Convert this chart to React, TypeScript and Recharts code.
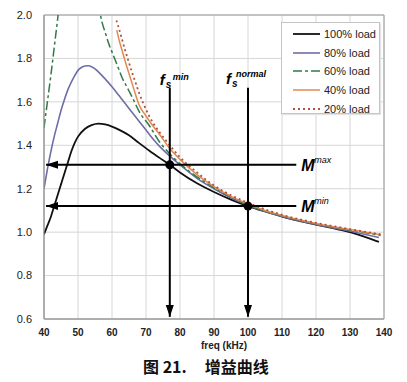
import React from 'react';
import {
  ComposedChart, Line, Scatter, XAxis, YAxis, CartesianGrid, ReferenceLine, ReferenceArea,
} from 'recharts';

// ---- data ----
const xTicks = [40, 50, 60, 70, 80, 90, 100, 110, 120, 130, 140];
const yTicks = [0.6, 0.8, 1.0, 1.2, 1.4, 1.6, 1.8, 2.0];

const freq100 = [40, 41, 42, 43, 44, 45, 46, 47, 48, 49, 50, 52, 54, 56, 58, 60, 62, 65, 68, 71, 74, 77, 80, 85, 90, 95, 100, 105, 110, 115, 120, 125, 130, 135, 138.5];
const gain100 = [0.99, 1.03, 1.07, 1.12, 1.17, 1.22, 1.27, 1.32, 1.37, 1.41, 1.44, 1.475, 1.493, 1.5, 1.496, 1.486, 1.472, 1.446, 1.41, 1.375, 1.342, 1.31, 1.275, 1.225, 1.185, 1.15, 1.12, 1.095, 1.072, 1.052, 1.035, 1.018, 1.0, 0.975, 0.955];

const freq80 = [40, 41, 42, 43, 44, 45, 46, 47, 48, 49, 50, 51, 52, 53, 54, 55, 56, 58, 60, 62, 64, 66, 68, 70, 72, 74, 77, 80, 85, 90, 95, 100, 105, 110, 120, 130, 138.5];
const gain80 = [1.2, 1.29, 1.37, 1.44, 1.5, 1.56, 1.61, 1.655, 1.69, 1.72, 1.745, 1.758, 1.765, 1.766, 1.762, 1.752, 1.738, 1.705, 1.67, 1.63, 1.59, 1.55, 1.51, 1.47, 1.43, 1.395, 1.35, 1.31, 1.248, 1.2, 1.158, 1.124, 1.095, 1.072, 1.035, 1.005, 0.975];

const freq60 = [40, 41, 42, 43, 44, 45, 56, 57, 58, 59, 60, 61, 62, 63, 64, 65, 66, 68, 71, 74, 77, 80, 85, 90, 95, 100, 105, 110, 120, 130, 139];
const gain60 = [1.48, 1.6, 1.72, 1.85, 1.98, 2.12, 2.04, 1.97, 1.92, 1.87, 1.83, 1.79, 1.75, 1.71, 1.68, 1.65, 1.62, 1.555, 1.49, 1.415, 1.36, 1.315, 1.255, 1.205, 1.16, 1.125, 1.097, 1.074, 1.038, 1.01, 0.985];

const freq40 = [61.4, 62, 63, 64, 65, 66, 67, 68, 70, 72, 74, 77, 80, 85, 90, 95, 100, 105, 110, 120, 130, 139];
const gain40 = [1.93, 1.89, 1.835, 1.78, 1.73, 1.68, 1.63, 1.585, 1.535, 1.49, 1.45, 1.385, 1.335, 1.265, 1.21, 1.165, 1.13, 1.1, 1.077, 1.04, 1.012, 0.988];

const freq20 = [61.3, 62, 63, 64, 65, 66, 67, 68, 70, 72, 74, 77, 80, 85, 90, 95, 100, 105, 110, 120, 130, 139];
const gain20 = [1.975, 1.94, 1.885, 1.83, 1.78, 1.73, 1.685, 1.64, 1.565, 1.505, 1.46, 1.4, 1.345, 1.275, 1.215, 1.17, 1.135, 1.105, 1.08, 1.043, 1.014, 0.99];

const loadLabels = ['100% load', '80% load', '60% load', '40% load', '20% load'];

// annotation values
const fsMin = 77;
const fsNormal = 100;
const mMax = 1.31;
const mMin = 1.12;
const arrowTop = 1.665;
const mLineEnd = 114.2;
const yMin = 0.6;
const xMin = 40;

const zip = (xs: number[], ys: number[]) => xs.map((x, i) => ({ x, y: ys[i] }));

const seriesStyles = [
  { stroke: '#111111', strokeWidth: 1.8, dash: undefined as string | undefined },
  { stroke: '#6e6ea6', strokeWidth: 1.6, dash: undefined },
  { stroke: '#2f7a4a', strokeWidth: 1.5, dash: '9 3 3 3' },
  { stroke: '#e08a50', strokeWidth: 1.5, dash: undefined },
  { stroke: '#b4503c', strokeWidth: 1.8, dash: '2 3' },
];
const seriesData = [
  zip(freq100, gain100),
  zip(freq80, gain80),
  zip(freq60, gain60),
  zip(freq40, gain40),
  zip(freq20, gain20),
];

const FONT = '"Liberation Sans", Arial, sans-serif';

const DownArrow = (p: any) => (
  <path d={`M${p.cx},${p.cy - 2} L${p.cx - 4},${p.cy - 14} L${p.cx + 4},${p.cy - 14} Z`} fill="#000" />
);
const LeftArrow = (p: any) => (
  <path d={`M${p.cx + 2},${p.cy} L${p.cx + 14},${p.cy - 4} L${p.cx + 14},${p.cy + 4} Z`} fill="#000" />
);
const Dot = (p: any) => <circle cx={p.cx} cy={p.cy} r={4.5} fill="#000" />;

const txt = { fontFamily: FONT, fontWeight: 700, fontStyle: 'italic' as const, fill: '#000' };

const FsMinLabel = (p: any) => (
  <g>
    <text x={p.cx - 10} y={p.cy - 3} fontSize={15} {...txt}>f</text>
    <text x={p.cx - 4} y={p.cy} fontSize={10} {...txt}>s</text>
    <text x={p.cx + 3} y={p.cy - 8} fontSize={9} {...txt}>min</text>
  </g>
);
const FsNormalLabel = (p: any) => (
  <g>
    <text x={p.cx - 22} y={p.cy - 4} fontSize={15} {...txt}>f</text>
    <text x={p.cx - 16} y={p.cy - 1} fontSize={10} {...txt}>s</text>
    <text x={p.cx - 12} y={p.cy - 11} fontSize={9} {...txt}>normal</text>
  </g>
);
const MLabel = (sup: string) => (p: any) => (
  <g>
    <text x={p.cx + 5} y={p.cy + 6} fontSize={16} {...txt}>M</text>
    <text x={p.cx + 18} y={p.cy - 2} fontSize={9} fontFamily={FONT} fontStyle="italic" fill="#000">{sup}</text>
  </g>
);

export default function App() {
  return (
    <div style={{ position: 'absolute', left: 0, top: 0, width: 407, height: 382, background: '#fff', fontFamily: FONT }}>
      <ComposedChart width={407} height={382} margin={{ top: 15, right: 23, bottom: 33, left: 4 }}>
        <CartesianGrid stroke="#d6d6d6" strokeWidth={1} />
        <XAxis
          type="number" dataKey="x" domain={[40, 140]} ticks={xTicks} allowDataOverflow
          height={30} tickSize={0} tickMargin={10} axisLine={{ stroke: '#999' }}
          tick={{ fontSize: 10, fontWeight: 700, fill: '#222', fontFamily: FONT }}
        />
        <YAxis
          type="number" domain={[0.6, 2.0]} ticks={yTicks} allowDataOverflow
          width={40} tickSize={0} tickMargin={12} axisLine={{ stroke: '#999' }}
          tickFormatter={(v: number) => v.toFixed(1)}
          tick={{ fontSize: 11, fill: '#222', fontFamily: FONT }}
        />
        <ReferenceArea x1={40} x2={140} y1={0.6} y2={2.0} fill="none" stroke="#9a9a9a" strokeWidth={1} />
        {seriesData.map((d, i) => (
          <Line
            key={loadLabels[i]} data={d} dataKey="y" name={loadLabels[i]} type="monotone"
            stroke={seriesStyles[i].stroke} strokeWidth={seriesStyles[i].strokeWidth}
            strokeDasharray={seriesStyles[i].dash} dot={false} activeDot={false}
            isAnimationActive={false}
          />
        ))}
        <ReferenceLine segment={[{ x: fsMin, y: arrowTop }, { x: fsMin, y: yMin + 0.01 }]} stroke="#000" strokeWidth={2} />
        <ReferenceLine segment={[{ x: fsNormal, y: arrowTop }, { x: fsNormal, y: yMin + 0.01 }]} stroke="#000" strokeWidth={2} />
        <ReferenceLine segment={[{ x: xMin + 0.6, y: mMax }, { x: mLineEnd, y: mMax }]} stroke="#000" strokeWidth={2} />
        <ReferenceLine segment={[{ x: xMin + 0.6, y: mMin }, { x: mLineEnd, y: mMin }]} stroke="#000" strokeWidth={2} />
        <Scatter data={[{ x: fsMin, y: yMin }, { x: fsNormal, y: yMin }]} dataKey="y" shape={DownArrow} isAnimationActive={false} />
        <Scatter data={[{ x: xMin, y: mMax }, { x: xMin, y: mMin }]} dataKey="y" shape={LeftArrow} isAnimationActive={false} />
        <Scatter data={[{ x: fsMin, y: mMax }, { x: fsNormal, y: mMin }]} dataKey="y" shape={Dot} isAnimationActive={false} />
        <Scatter data={[{ x: fsMin, y: arrowTop }]} dataKey="y" shape={FsMinLabel} isAnimationActive={false} />
        <Scatter data={[{ x: fsNormal, y: arrowTop }]} dataKey="y" shape={FsNormalLabel} isAnimationActive={false} />
        <Scatter data={[{ x: mLineEnd, y: mMax }]} dataKey="y" shape={MLabel('max')} isAnimationActive={false} />
        <Scatter data={[{ x: mLineEnd, y: mMin }]} dataKey="y" shape={MLabel('min')} isAnimationActive={false} />
      </ComposedChart>

      {/* legend */}
      <div style={{ position: 'absolute', left: 281, top: 22, width: 97, height: 90, background: '#fff', border: '1px solid #c4c4c4', boxShadow: '1px 1px 1px #e4e4e4' }}>
        {loadLabels.map((lab, i) => (
          <div key={lab} style={{ position: 'absolute', left: 10, top: 3 + i * 18.7, height: 16, display: 'flex', alignItems: 'center' }}>
            <svg width={30} height={16}>
              <line x1={1} y1={8} x2={28} y2={8} stroke={seriesStyles[i].stroke} strokeWidth={seriesStyles[i].strokeWidth}
                strokeDasharray={seriesStyles[i].dash} />
            </svg>
            <span style={{ fontSize: 11, color: '#222', marginLeft: 2, whiteSpace: 'nowrap' }}>{lab}</span>
          </div>
        ))}
      </div>

      {/* axis title */}
      <div style={{ position: 'absolute', left: 174, width: 100, top: 340, textAlign: 'center', fontSize: 10, fontWeight: 700, color: '#222' }}>freq (kHz)</div>

      {/* caption */}
      <div style={{ position: 'absolute', left: 143, top: 356, fontSize: 16, fontWeight: 700, color: '#111', fontFamily: '"Noto Sans CJK SC", sans-serif', whiteSpace: 'nowrap', lineHeight: '20px' }}>
        <span>图 21.</span>
        <span style={{ marginLeft: 18 }}>增益曲线</span>
      </div>
    </div>
  );
}
